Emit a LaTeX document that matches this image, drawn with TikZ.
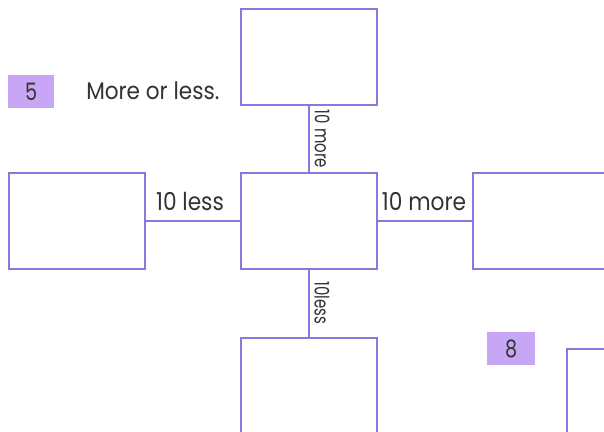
\documentclass[tikz,border=0pt]{standalone}
\usepackage{fontspec}
\setmainfont{Poppins}[FakeStretch=0.8]
\newfontfamily\titlefont{Poppins}[FakeStretch=0.9]
\newfontfamily\hlabelfont{Poppins}[FakeStretch=0.88]
\newfontfamily\vlabelfont{Poppins}[FakeStretch=0.75]
\definecolor{boxline}{HTML}{8878E0}
\definecolor{tagfill}{HTML}{C8A6F6}
\definecolor{ink}{HTML}{333333}
\tikzset{
  frame/.style={draw=boxline, line width=1.2pt, fill=white},
  link/.style={draw=boxline, line width=1.2pt},
  tag/.style={fill=tagfill, draw=none, inner sep=0pt, text=ink, font=\fontsize{18}{18}\selectfont},
  hlabel/.style={text=ink, font=\hlabelfont\fontsize{18.5}{18.5}\selectfont, inner sep=0pt, anchor=base},
  vlabel/.style={text=ink, font=\vlabelfont\fontsize{15}{15}\selectfont, inner sep=1pt, rotate=-90}
}
\begin{document}
\begin{tikzpicture}[x=0.75pt,y=-0.75pt]
\useasboundingbox (0,0) rectangle (604,432);
\clip (0,0) rectangle (604,432);
\fill[white] (0,0) rectangle (604,432);
% boxes
\node[frame, minimum width=102pt, minimum height=72pt, anchor=north west] (top) at (240,8) {};
\node[frame, minimum width=102pt, minimum height=72pt, anchor=north west] (mid) at (240,172) {};
\node[frame, minimum width=102pt, minimum height=72pt, anchor=north west] (left) at (8,172) {};
\node[frame, minimum width=102pt, minimum height=72pt, anchor=north west] (right) at (472,172) {};
\node[frame, minimum width=102pt, minimum height=72pt, anchor=north west] (bottom) at (240,337) {};
\node[frame, minimum width=102pt, minimum height=72pt, anchor=north west] (corner) at (566,348) {};
% connectors
\draw[link] (top.south) -- (mid.north);
\draw[link] (mid.south) -- (bottom.north);
\draw[link] (left.east) -- (mid.west);
\draw[link] (mid.east) -- (right.west);
% labels on connectors
\node[hlabel] (lessl) at (190,210) {10 less};
\node[hlabel] (morel) at (424,210) {10 more};
\node[vlabel] (moret) at (322,139) {10 more};
\node[vlabel] (lessb) at (322,303) {10less};
% tags and title
\node[tag, minimum width=34.5pt, minimum height=24.75pt, anchor=north west] (five) at (8,75) {5};
\node[tag, minimum width=36pt, minimum height=24.75pt, anchor=north west] (eight) at (487,332) {8};
\node[text=ink, font=\titlefont\fontsize{18}{18}\selectfont, anchor=base west, inner sep=0pt] (title) at (86,99) {More or less.};
\end{tikzpicture}
\end{document}
